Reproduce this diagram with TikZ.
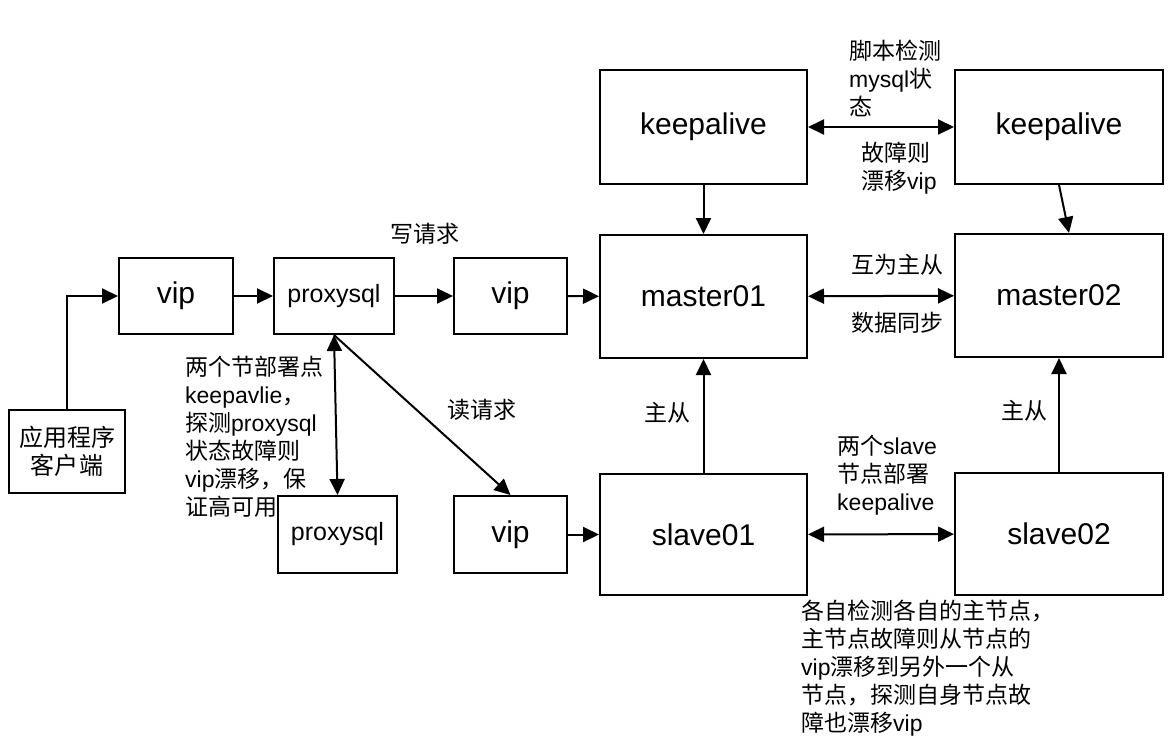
\documentclass[tikz,border=0pt]{standalone}
\usepackage{fontspec}
\setmainfont{Liberation Sans}
\newfontfamily\cjk{Noto Sans CJK SC}
\usetikzlibrary{arrows.meta}
\begin{document}
\begin{tikzpicture}[x=1pt,y=-1pt,
  box/.style={draw, line width=2pt, inner sep=0pt, anchor=north west, font=\fontsize{30}{34}\selectfont},
  pbox/.style={box, font=\fontsize{25}{28}\selectfont},
  cbox/.style={box, align=center, font=\fontsize{24}{28}\selectfont\cjk},
  lbl/.style={inner sep=0pt, align=left, font=\fontsize{23}{28}\selectfont},
  arr/.style={line width=2pt, -{Triangle[length=16pt,width=15pt]}},
  dbl/.style={line width=2pt, {Triangle[length=16pt,width=15pt]}-{Triangle[length=16pt,width=15pt]}}]
\useasboundingbox (0,0) rectangle (1174,739);
% boxes
\node[cbox, minimum width=116pt, minimum height=83pt] (client) at (8,409) {应用程序\\客户端};
\node[box, minimum width=114pt, minimum height=76pt] (vip1) at (118,257) {vip};
\node[pbox, minimum width=120pt, minimum height=76pt] (px1) at (273,257) {proxysql};
\node[box, minimum width=113pt, minimum height=76pt] (vip2) at (453,257) {vip};
\node[box, minimum width=207pt, minimum height=123pt] (m1) at (599,234) {master01};
\node[box, minimum width=208pt, minimum height=123pt] (m2) at (954,233) {master02};
\node[box, minimum width=207pt, minimum height=114pt] (k1) at (599,69) {keepalive};
\node[box, minimum width=208pt, minimum height=114pt] (k2) at (954,69) {keepalive};
\node[pbox, minimum width=119pt, minimum height=77pt] (px2) at (277,495) {proxysql};
\node[box, minimum width=113pt, minimum height=77pt] (vip3) at (453,495) {vip};
\node[box, minimum width=207pt, minimum height=121pt] (s1) at (599,473) {slave01};
\node[box, minimum width=208pt, minimum height=122pt] (s2) at (954,472) {slave02};
% connectors
\draw[arr] (client.north) |- (vip1.west);
\draw[arr] (vip1) -- (px1);
\draw[arr] (px1) -- (vip2);
\draw[arr] (vip2) -- (m1);
\draw[arr] (k1) -- (m1);
\draw[arr] (k2.south) -- ([xshift=10pt]m2.north);
\draw[dbl] (k1) -- (k2);
\draw[dbl] (m1) -- (m2);
\draw[arr] (s1) -- (m1);
\draw[arr] (s2) -- (m2);
\draw[dbl] (s1) -- (s2);
\draw[arr] (vip3) -- (s1);
\draw[dbl] (px1.south) -- (px2.north);
\draw[arr] (px1.south) -- (vip3.north);
% labels
\node[lbl] (w) at (425,234) {\cjk 写请求};
\node[lbl] (r) at (482,410) {\cjk 读请求};
\node[lbl] (ms1) at (667,413) {\cjk 主从};
\node[lbl] (ms2) at (1024,411) {\cjk 主从};
\node[lbl, anchor=west] (kl1) at (849,78) {{\cjk 脚本检测}\\mysql{\cjk 状}\\{\cjk 态}};
\node[lbl, anchor=west] (kl2) at (861,168) {{\cjk 故障则}\\{\cjk 漂移}vip};
\node[lbl] (mm1) at (897,265) {\cjk 互为主从};
\node[lbl] (mm2) at (897,323) {\cjk 数据同步};
\node[lbl, anchor=west] (sl) at (837,475) {{\cjk 两个}slave\\{\cjk 节点部署}\\keepalive};
\node[lbl, anchor=west] (pl) at (185,437) {{\cjk 两个节部署点}\\keepavlie{\cjk ，}\\{\cjk 探测}proxysql\\{\cjk 状态故障则}\\vip{\cjk 漂移，保}\\{\cjk 证高可用}};
\node[lbl, anchor=west] (bl) at (801,668) {{\cjk 各自检测各自的主节点，}\\{\cjk 主节点故障则从节点的}\\vip{\cjk 漂移到另外一个从}\\{\cjk 节点，探测自身节点故}\\{\cjk 障也漂移}vip};
\end{tikzpicture}
\end{document}
